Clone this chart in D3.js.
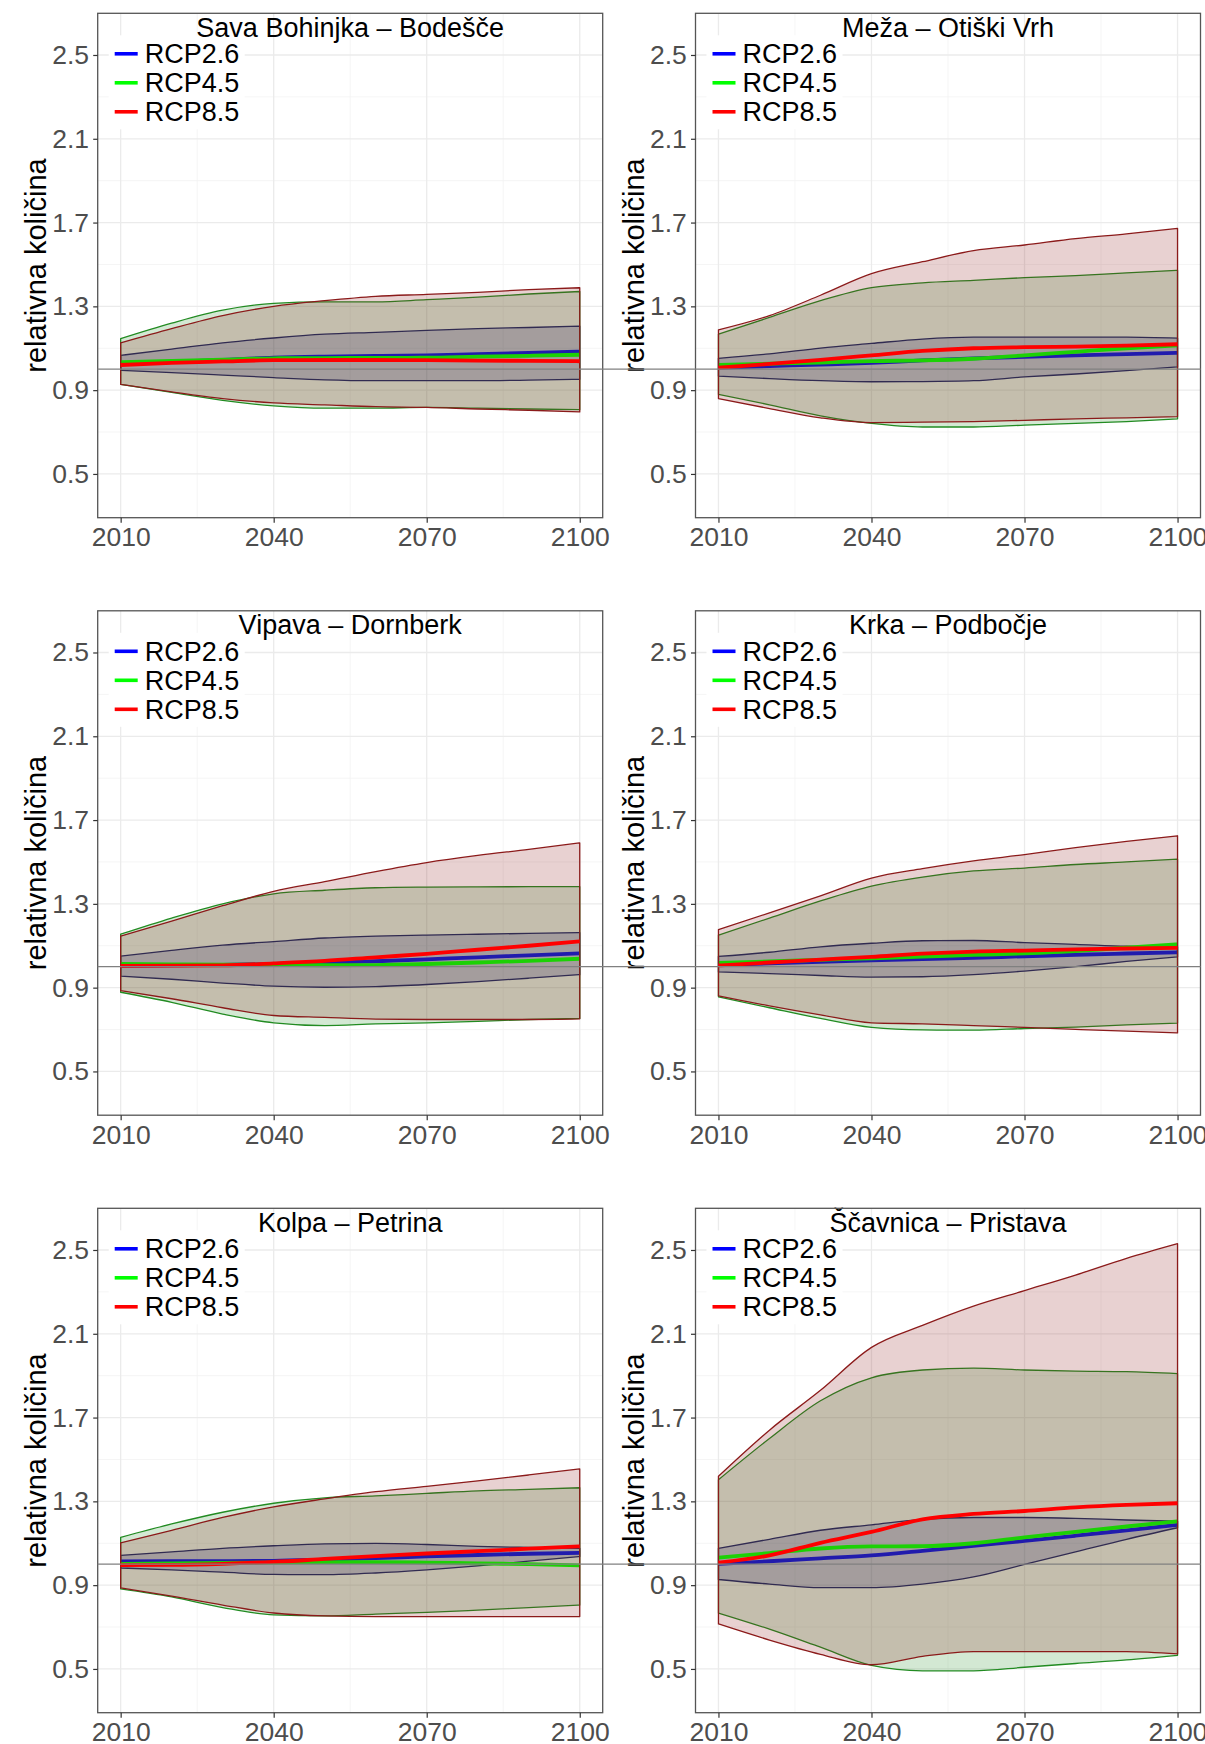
<!DOCTYPE html>
<html>
<head>
<meta charset="utf-8">
<script src="https://cdn.jsdelivr.net/npm/d3@7"></script>
<style>
  html, body { margin: 0; padding: 0; background: #ffffff; }
  svg { display: block; font-family: "Liberation Sans", Arial, sans-serif; }
</style>
</head>
<body>
<svg id="chart" width="1205" height="1744"></svg>
<script>
// ---------------- DATA ----------------
const years = [2010, 2020, 2030, 2040, 2050, 2060, 2070, 2080, 2090, 2100];
const stations = ["Sava Bohinjka – Bodešče", "Meža – Otiški Vrh", "Vipava – Dornberk",
                  "Krka – Podbočje", "Kolpa – Petrina", "Ščavnica – Pristava"];
const scenarios = ["RCP2.6", "RCP4.5", "RCP8.5"];
const yTicks = [0.5, 0.9, 1.3, 1.7, 2.1, 2.5];
const yMinorTicks = [0.7, 1.1, 1.5, 1.9, 2.3];
const xTicks = [2010, 2040, 2070, 2100];
const xMinorTicks = [2025, 2055, 2085];
const yLabel = "relativna količina";

// Sava Bohinjka – Bodešče
const sava26Lo   = [0.995, 0.984, 0.972, 0.960, 0.949, 0.945, 0.945, 0.945, 0.948, 0.952];
const sava26Mean = [1.025, 1.035, 1.045, 1.055, 1.060, 1.063, 1.066, 1.072, 1.078, 1.084];
const sava26Hi   = [1.066, 1.096, 1.126, 1.149, 1.167, 1.176, 1.185, 1.194, 1.199, 1.206];
const sava45Lo   = [0.928, 0.889, 0.851, 0.825, 0.814, 0.814, 0.818, 0.814, 0.810, 0.807];
const sava45Mean = [1.034, 1.040, 1.046, 1.052, 1.053, 1.054, 1.055, 1.060, 1.064, 1.069];
const sava45Hi   = [1.146, 1.220, 1.282, 1.314, 1.321, 1.321, 1.332, 1.344, 1.359, 1.371];
const sava85Lo   = [0.928, 0.892, 0.860, 0.839, 0.830, 0.821, 0.818, 0.810, 0.804, 0.796];
const sava85Mean = [1.020, 1.030, 1.037, 1.043, 1.044, 1.044, 1.043, 1.041, 1.040, 1.038];
const sava85Hi   = [1.126, 1.194, 1.256, 1.300, 1.327, 1.348, 1.357, 1.367, 1.380, 1.389];

// Meža – Otiški Vrh
const meza26Lo   = [0.967, 0.955, 0.945, 0.940, 0.941, 0.945, 0.963, 0.977, 0.993, 1.011];
const meza26Mean = [1.007, 1.015, 1.022, 1.030, 1.042, 1.052, 1.059, 1.066, 1.072, 1.078];
const meza26Hi   = [1.052, 1.073, 1.101, 1.123, 1.144, 1.153, 1.153, 1.153, 1.153, 1.148];
const meza45Lo   = [0.880, 0.830, 0.777, 0.741, 0.724, 0.724, 0.733, 0.741, 0.750, 0.763];
const meza45Mean = [1.020, 1.026, 1.032, 1.039, 1.042, 1.050, 1.066, 1.083, 1.100, 1.114];
const meza45Hi   = [1.167, 1.247, 1.327, 1.389, 1.412, 1.424, 1.437, 1.447, 1.460, 1.472];
const meza85Lo   = [0.860, 0.812, 0.768, 0.745, 0.747, 0.750, 0.756, 0.763, 0.768, 0.774];
const meza85Mean = [1.007, 1.025, 1.045, 1.066, 1.087, 1.100, 1.105, 1.108, 1.113, 1.119];
const meza85Hi   = [1.188, 1.256, 1.353, 1.456, 1.513, 1.566, 1.593, 1.623, 1.646, 1.672];

// Vipava – Dornberk
const vipava26Lo   = [0.955, 0.940, 0.922, 0.907, 0.902, 0.905, 0.915, 0.929, 0.945, 0.962];
const vipava26Mean = [1.004, 1.006, 1.009, 1.013, 1.018, 1.026, 1.035, 1.045, 1.054, 1.064];
const vipava26Hi   = [1.050, 1.078, 1.103, 1.120, 1.137, 1.146, 1.151, 1.155, 1.159, 1.163];
const vipava45Lo   = [0.878, 0.830, 0.774, 0.732, 0.719, 0.727, 0.732, 0.739, 0.748, 0.753];
const vipava45Mean = [1.013, 1.011, 1.010, 1.009, 1.007, 1.008, 1.013, 1.020, 1.028, 1.038];
const vipava45Hi   = [1.155, 1.232, 1.300, 1.348, 1.365, 1.377, 1.380, 1.381, 1.382, 1.382];
const vipava85Lo   = [0.886, 0.847, 0.804, 0.767, 0.758, 0.750, 0.748, 0.748, 0.748, 0.751];
const vipava85Mean = [1.004, 1.005, 1.006, 1.016, 1.028, 1.045, 1.061, 1.081, 1.100, 1.121];
const vipava85Hi   = [1.146, 1.218, 1.291, 1.360, 1.406, 1.454, 1.497, 1.531, 1.560, 1.591];

// Krka – Podbočje
const krka26Lo   = [0.975, 0.967, 0.958, 0.950, 0.952, 0.962, 0.979, 1.000, 1.025, 1.047];
const krka26Mean = [1.009, 1.016, 1.023, 1.030, 1.036, 1.042, 1.050, 1.057, 1.063, 1.069];
const krka26Hi   = [1.049, 1.069, 1.095, 1.112, 1.124, 1.125, 1.115, 1.107, 1.098, 1.095];
const krka45Lo   = [0.856, 0.804, 0.753, 0.710, 0.698, 0.697, 0.705, 0.712, 0.722, 0.731];
const krka45Mean = [1.018, 1.025, 1.033, 1.040, 1.048, 1.056, 1.064, 1.075, 1.091, 1.107];
const krka45Hi   = [1.151, 1.232, 1.314, 1.385, 1.428, 1.457, 1.471, 1.488, 1.500, 1.514];
const krka85Lo   = [0.861, 0.813, 0.770, 0.732, 0.727, 0.719, 0.710, 0.701, 0.692, 0.684];
const krka85Mean = [1.006, 1.020, 1.034, 1.047, 1.062, 1.072, 1.077, 1.083, 1.087, 1.090];
const krka85Hi   = [1.177, 1.257, 1.338, 1.423, 1.468, 1.505, 1.535, 1.568, 1.598, 1.625];

// Kolpa – Petrina
const kolpa26Lo   = [0.982, 0.973, 0.962, 0.951, 0.950, 0.958, 0.973, 0.992, 1.015, 1.037];
const kolpa26Mean = [1.013, 1.014, 1.015, 1.016, 1.022, 1.029, 1.037, 1.044, 1.050, 1.054];
const kolpa26Hi   = [1.042, 1.059, 1.076, 1.088, 1.097, 1.099, 1.094, 1.085, 1.080, 1.076];
const kolpa45Lo   = [0.882, 0.844, 0.793, 0.758, 0.753, 0.762, 0.770, 0.781, 0.793, 0.805];
const kolpa45Mean = [1.002, 1.004, 1.006, 1.008, 1.010, 1.010, 1.008, 1.004, 1.000, 0.994];
const kolpa45Hi   = [1.128, 1.192, 1.248, 1.291, 1.317, 1.326, 1.338, 1.350, 1.357, 1.365];
const kolpa85Lo   = [0.887, 0.848, 0.805, 0.767, 0.753, 0.750, 0.750, 0.750, 0.750, 0.750];
const kolpa85Mean = [0.996, 0.997, 1.002, 1.011, 1.025, 1.039, 1.051, 1.062, 1.074, 1.085];
const kolpa85Hi   = [1.102, 1.162, 1.223, 1.274, 1.312, 1.346, 1.372, 1.398, 1.426, 1.455];

// Ščavnica – Pristava
const scavnica26Lo   = [0.927, 0.905, 0.888, 0.888, 0.905, 0.939, 0.999, 1.059, 1.119, 1.174];
const scavnica26Mean = [1.002, 1.014, 1.028, 1.042, 1.064, 1.088, 1.111, 1.136, 1.162, 1.188];
const scavnica26Hi   = [1.076, 1.119, 1.162, 1.188, 1.214, 1.223, 1.223, 1.219, 1.211, 1.205];
const scavnica45Lo   = [0.767, 0.690, 0.604, 0.517, 0.491, 0.491, 0.508, 0.526, 0.543, 0.565];
const scavnica45Mean = [1.031, 1.053, 1.075, 1.085, 1.086, 1.100, 1.128, 1.154, 1.180, 1.205];
const scavnica45Hi   = [1.403, 1.600, 1.780, 1.890, 1.927, 1.936, 1.927, 1.922, 1.919, 1.910];
const scavnica85Lo   = [0.715, 0.638, 0.570, 0.520, 0.560, 0.583, 0.583, 0.583, 0.583, 0.572];
const scavnica85Mean = [1.007, 1.042, 1.102, 1.154, 1.214, 1.240, 1.254, 1.271, 1.283, 1.291];
const scavnica85Hi   = [1.420, 1.640, 1.830, 2.035, 2.140, 2.232, 2.306, 2.380, 2.460, 2.530];

// table assembled from the named arrays
const stationSeries = [
  { lo: [sava26Lo, sava45Lo, sava85Lo], mean: [sava26Mean, sava45Mean, sava85Mean], hi: [sava26Hi, sava45Hi, sava85Hi] },
  { lo: [meza26Lo, meza45Lo, meza85Lo], mean: [meza26Mean, meza45Mean, meza85Mean], hi: [meza26Hi, meza45Hi, meza85Hi] },
  { lo: [vipava26Lo, vipava45Lo, vipava85Lo], mean: [vipava26Mean, vipava45Mean, vipava85Mean], hi: [vipava26Hi, vipava45Hi, vipava85Hi] },
  { lo: [krka26Lo, krka45Lo, krka85Lo], mean: [krka26Mean, krka45Mean, krka85Mean], hi: [krka26Hi, krka45Hi, krka85Hi] },
  { lo: [kolpa26Lo, kolpa45Lo, kolpa85Lo], mean: [kolpa26Mean, kolpa45Mean, kolpa85Mean], hi: [kolpa26Hi, kolpa45Hi, kolpa85Hi] },
  { lo: [scavnica26Lo, scavnica45Lo, scavnica85Lo], mean: [scavnica26Mean, scavnica45Mean, scavnica85Mean], hi: [scavnica26Hi, scavnica45Hi, scavnica85Hi] }
];

// ---------------- STYLE / LAYOUT ----------------
const ribbonFill   = ["#000080", "#228B22", "#8B1A1A"];
const ribbonStroke = ["#191970", "#228B22", "#8B1A1A"];
const lineColor    = ["#0000FF", "#00FF00", "#FF0000"];
const ribbonAlpha = 0.2;

const PW = 505, PH = 504.4;
const colX = [97.7, 695.5];
const rowTop = 13.3, rowStep = 597.5;
const FS_TICK = 26.5, FS_TEXT = 27, FS_YLAB = 29;

const svg = d3.select("#chart");

const x = d3.scaleLinear().domain([2005.5, 2104.5]).range([0, PW]);
const y = d3.scaleLinear().domain([0.2911, 2.699]).range([PH, 0]);

const area = d3.area()
  .x((d, i) => x(years[i]))
  .y0(d => y(d[0]))
  .y1(d => y(d[1]))
  .curve(d3.curveMonotoneX);
const line = d3.line()
  .x((d, i) => x(years[i]))
  .y(d => y(d))
  .curve(d3.curveMonotoneX);

const defs = svg.append("defs");
defs.append("clipPath").attr("id", "panelClip")
  .append("rect").attr("x", 0).attr("y", 0).attr("width", PW).attr("height", PH);

stations.forEach((name, si) => {
  const col = si % 2, row = Math.floor(si / 2);
  const g = svg.append("g")
    .attr("transform", `translate(${colX[col]},${rowTop + row * rowStep})`);

  // panel background
  g.append("rect").attr("width", PW).attr("height", PH).attr("fill", "#ffffff");

  // minor grid
  g.append("g").selectAll("line").data(yMinorTicks).join("line")
    .attr("x1", 0).attr("x2", PW).attr("y1", d => y(d)).attr("y2", d => y(d))
    .attr("stroke", "#F3F3F3").attr("stroke-width", 0.8);
  g.append("g").selectAll("line").data(xMinorTicks).join("line")
    .attr("y1", 0).attr("y2", PH).attr("x1", d => x(d)).attr("x2", d => x(d))
    .attr("stroke", "#F3F3F3").attr("stroke-width", 0.8);
  // major grid
  g.append("g").selectAll("line").data(yTicks).join("line")
    .attr("x1", 0).attr("x2", PW).attr("y1", d => y(d)).attr("y2", d => y(d))
    .attr("stroke", "#EBEBEB").attr("stroke-width", 1.3);
  g.append("g").selectAll("line").data(xTicks).join("line")
    .attr("y1", 0).attr("y2", PH).attr("x1", d => x(d)).attr("x2", d => x(d))
    .attr("stroke", "#EBEBEB").attr("stroke-width", 1.3);

  // data: ribbon + mean per scenario (later scenarios overlay earlier ones)
  const dataG = g.append("g").attr("clip-path", "url(#panelClip)");
  const s = stationSeries[si];
  scenarios.forEach((sc, k) => {
    const pairs = s.lo[k].map((v, i) => [v, s.hi[k][i]]);
    dataG.append("path").datum(pairs)
      .attr("d", area)
      .attr("fill", ribbonFill[k]).attr("fill-opacity", ribbonAlpha)
      .attr("stroke", ribbonStroke[k]).attr("stroke-width", 1.3)
      .attr("stroke-linejoin", "round");
    dataG.append("path").datum(s.mean[k])
      .attr("d", line)
      .attr("fill", "none")
      .attr("stroke", lineColor[k]).attr("stroke-width", 3.8)
      .attr("stroke-linejoin", "round");
  });

  // legend with white background
  const lg = g.append("g").attr("transform", "translate(11,22)");
  lg.append("rect").attr("x", 0).attr("y", 0).attr("width", 136).attr("height", 94).attr("fill", "#ffffff");
  scenarios.forEach((sc, k) => {
    const yy = 18.5 + k * 29;
    lg.append("line").attr("x1", 6).attr("x2", 29).attr("y1", yy).attr("y2", yy)
      .attr("stroke", lineColor[k]).attr("stroke-width", 3.6);
    lg.append("text").attr("x", 36).attr("y", yy + 9.6)
      .attr("font-size", FS_TEXT).attr("fill", "#000000").text(sc);
  });

  // title
  g.append("text").attr("x", PW / 2).attr("y", 23.2).attr("text-anchor", "middle")
    .attr("font-size", FS_TEXT).attr("fill", "#000000").text(name);

  // panel border
  g.append("rect").attr("width", PW).attr("height", PH)
    .attr("fill", "none").attr("stroke", "#555555").attr("stroke-width", 1.3);

  // axes
  const ya = g.append("g").call(
    d3.axisLeft(y).tickValues(yTicks).tickSize(4.5).tickPadding(4.2).tickFormat(d3.format(".1f")));
  ya.select(".domain").remove();
  ya.selectAll(".tick line").attr("stroke", "#333333").attr("stroke-width", 1.2);
  ya.selectAll(".tick text").attr("font-size", FS_TICK).attr("fill", "#4D4D4D")
    .attr("font-family", "Liberation Sans, Arial, sans-serif");

  const xa = g.append("g").attr("transform", `translate(0,${PH})`).call(
    d3.axisBottom(x).tickValues(xTicks).tickSize(5).tickPadding(4.8).tickFormat(d3.format("d")));
  xa.select(".domain").remove();
  xa.selectAll(".tick line").attr("stroke", "#333333").attr("stroke-width", 1.2);
  xa.selectAll(".tick text").attr("font-size", FS_TICK).attr("fill", "#4D4D4D")
    .attr("font-family", "Liberation Sans, Arial, sans-serif");

  // y axis title
  g.append("text")
    .attr("transform", `translate(${46.5 - colX[0]},${PH / 2}) rotate(-90)`)
    .attr("text-anchor", "middle").attr("font-size", FS_YLAB).attr("fill", "#000000")
    .text(yLabel);
});

// reference line at 1.0 spanning both columns of each row
[0, 1, 2].forEach(row => {
  const yy = rowTop + row * rowStep + y(1.0);
  svg.append("line").attr("x1", colX[0]).attr("x2", colX[1] + PW)
    .attr("y1", yy).attr("y2", yy)
    .attr("stroke", "#808080").attr("stroke-width", 1.3);
});
</script>
</body>
</html>
